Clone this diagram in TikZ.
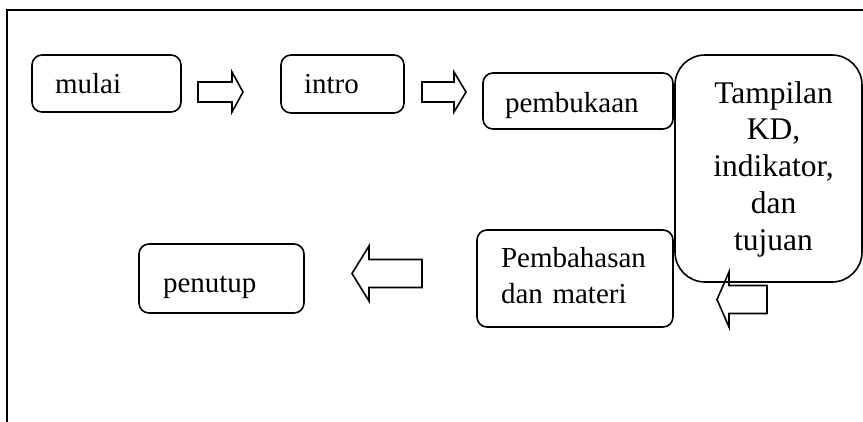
\documentclass[tikz,border=0pt]{standalone}
\usepackage{fontspec}
\setmainfont{Liberation Serif}
\newcommand{\indl}{\hspace*{10pt}}
\begin{document}
\begin{tikzpicture}[x=1pt,y=-1pt,
  box/.style={draw, line width=1.6pt, rounded corners=10pt, inner ysep=0pt,
    outer sep=0pt, align=left, anchor=north west,
    font=\fontsize{29pt}{36pt}\selectfont},
  bigbox/.style={box, rounded corners=30pt, align=center,
    font=\fontsize{31.5pt}{36.75pt}\selectfont},
  blockarrow/.style={draw, line width=1.6pt, line join=miter},
  frame/.style={draw, line width=2pt}]
\useasboundingbox (0,0) rectangle (863,421);
\clip (0,0) rectangle (863,421);
% outer frame (only left and top edges are inside the picture)
\draw[frame] (7,430) -- (7,10) -- (870,10);
% boxes
\node[box, inner xsep=23pt, text width=103pt, text height=38pt, text depth=19pt] (mulai) at (32,55) {mulai};
\node[box, inner xsep=23pt, text width=77pt, text height=38pt, text depth=20pt] (intro) at (281,55) {intro};
\node[box, inner xsep=22pt, text width=146pt, text height=39pt, text depth=17pt] (pembukaan) at (483,73) {pembukaan};
\node[bigbox, inner xsep=8pt, text width=171pt, text height=48pt, text depth=179pt] (tampilan) at (675,55) {\indl Tampilan\\\indl KD,\\\indl indikator,\\\indl dan\\\indl tujuan};
\node[box, inner xsep=24pt, text width=148pt, text height=37pt, text depth=60pt] (pembahasan) at (477,230) {Pembahasan\\dan materi};
\node[box, inner xsep=24pt, text width=117pt, text height=48pt, text depth=21pt] (penutup) at (139,244) {penutup};
% block arrows
\draw[blockarrow] (198,82) -- (232,82) -- (232,72) -- (243,92) -- (232,112) -- (232,102) -- (198,102) -- cycle;
\draw[blockarrow] (422,82) -- (454,82) -- (454,72) -- (466,92) -- (454,112) -- (454,102) -- (422,102) -- cycle;
\draw[blockarrow] (352,273.5) -- (369,246) -- (369,259.5) -- (422,259.5) -- (422,287.5) -- (369,287.5) -- (369,301) -- cycle;
\draw[blockarrow] (717,299.5) -- (729,272) -- (729,285.5) -- (767,285.5) -- (767,313.5) -- (729,313.5) -- (729,327) -- cycle;
\end{tikzpicture}
\end{document}
